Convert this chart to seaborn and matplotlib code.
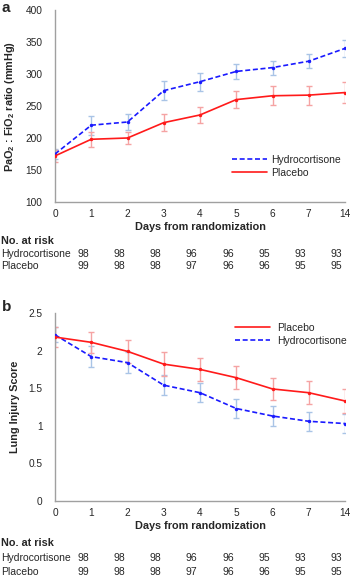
import numpy as np
import pandas as pd
import seaborn as sns
import matplotlib
matplotlib.use("Agg")
import matplotlib.pyplot as plt
from matplotlib.transforms import blended_transform_factory

# 데이터
days = ["0", "1", "2", "3", "4", "5", "6", "7", "14"]
pf_hydro = [175, 220, 225, 274, 288, 304, 310, 320, 340]
pf_hydro_err = [8, 15, 13, 15, 14, 12, 11, 11, 13]
pf_placebo = [172, 198, 200, 224, 236, 260, 266, 267, 271]
pf_placebo_err = [9, 12, 10, 13, 13, 13, 15, 15, 17]

lis_placebo = [2.18, 2.11, 1.99, 1.82, 1.75, 1.64, 1.49, 1.44, 1.33]
lis_placebo_err = [0.13, 0.14, 0.155, 0.16, 0.155, 0.15, 0.15, 0.155, 0.16]
lis_hydro = [2.21, 1.92, 1.84, 1.54, 1.44, 1.23, 1.13, 1.06, 1.03]
lis_hydro_err = [0.1, 0.135, 0.135, 0.135, 0.125, 0.13, 0.13, 0.125, 0.13]

risk_hydro = [98, 98, 98, 96, 96, 95, 93, 93]
risk_placebo = [99, 98, 98, 97, 96, 96, 95, 95]

sns.set_style("white")
plt.rcParams['font.family'] = ['Liberation Sans', 'DejaVu Sans']
plt.rcParams['mathtext.default'] = 'regular'

W, H = 358, 582
fig = plt.figure(figsize=(W / 100, H / 100), dpi=100)

def px_axes(left, top, right, bottom):
    return fig.add_axes([left / W, 1 - bottom / H, (right - left) / W, (bottom - top) / H])

HYD_C, HYD_E = "#1a1aff", "#a9c4e6"
PLA_C, PLA_E = "#ff1a1a", "#f5a3a3"
FS = 7.5   # 일반 글자 크기
x = np.arange(len(days))

def draw_panel(ax, hyd, hyd_err, pla, pla_err, order):
    ax.errorbar(x, hyd, yerr=hyd_err, fmt="none", ecolor=HYD_E, elinewidth=1, capsize=2.5, capthick=1, zorder=1)
    ax.errorbar(x, pla, yerr=pla_err, fmt="none", ecolor=PLA_E, elinewidth=1, capsize=2.5, capthick=1, zorder=1)
    df = pd.DataFrame({"x": np.concatenate([x, x]),
                       "y": np.concatenate([hyd, pla]),
                       "grp": ["Hydrocortisone"] * len(x) + ["Placebo"] * len(x)})
    sns.lineplot(data=df, x="x", y="y", hue="grp", style="grp",
                 palette={"Hydrocortisone": HYD_C, "Placebo": PLA_C},
                 dashes={"Hydrocortisone": (3, 1.6), "Placebo": ""},
                 markers={"Hydrocortisone": "o", "Placebo": "o"}, markersize=2.5,
                 markeredgewidth=0, lw=1.2, ax=ax, zorder=3)
    handles, labels = ax.get_legend_handles_labels()
    hl = dict(zip(labels, handles))
    for h in hl.values():
        h.set_marker("")
    ax.get_legend().remove()
    ax.set_xlim(0, 8)
    ax.set_xticks(x)
    ax.set_xticklabels(days)
    for s in ["top", "right"]:
        ax.spines[s].set_visible(False)
    for s in ["left", "bottom"]:
        ax.spines[s].set_color("#a0a0a0")
        ax.spines[s].set_linewidth(1.0)
    ax.tick_params(axis="y", direction="out", length=3, width=0.8, color="#a0a0a0", labelsize=7.3, pad=6)
    ax.tick_params(axis="x", direction="inout", length=4, width=0.8, color="#a0a0a0", labelsize=7.3, pad=3)
    ax.set_xlabel("Days from randomization", fontsize=7.8, fontweight="bold", labelpad=2)
    return [hl[k] for k in order]

def risk_table(ax, y_head, y_h, y_p):
    tr = blended_transform_factory(ax.transData, fig.transFigure)
    fig.text(1 / W, 1 - y_head / H, "No. at risk", fontsize=7.8, fontweight="bold", va="center")
    fig.text(1 / W, 1 - y_h / H, "Hydrocortisone", fontsize=FS, va="center")
    fig.text(1 / W, 1 - y_p / H, "Placebo", fontsize=FS, va="center")
    for i, (a, b) in enumerate(zip(risk_hydro, risk_placebo)):
        ax.text(i + 0.77, 1 - y_h / H, str(a), transform=tr, fontsize=FS, ha="center", va="center")
        ax.text(i + 0.77, 1 - y_p / H, str(b), transform=tr, fontsize=FS, ha="center", va="center")

# 패널 a
ax1 = px_axes(55, 10, 345, 202)
hs = draw_panel(ax1, pf_hydro, pf_hydro_err, pf_placebo, pf_placebo_err, ["Hydrocortisone", "Placebo"])
ax1.set_ylim(100, 400)
ax1.set_yticks(range(100, 401, 50))
ax1.set_ylabel(r"PaO$_2$ : FiO$_2$ ratio (mmHg)", fontsize=7.8, fontweight="bold", labelpad=6)
ax1.legend(hs, ["Hydrocortisone", "Placebo"], loc="upper left", bbox_to_anchor=(232 / W, 1 - 155 / H),
           bbox_transform=fig.transFigure, frameon=False, fontsize=FS, handlelength=3.4,
           handletextpad=0.4, labelspacing=0.25, borderpad=0, borderaxespad=0)
risk_table(ax1, 241, 254, 266)
fig.text(2 / W, 1 - 8 / H, "a", fontsize=11, fontweight="bold", va="center")

# 패널 b
ax2 = px_axes(55, 313, 345, 501)
hs = draw_panel(ax2, lis_hydro, lis_hydro_err, lis_placebo, lis_placebo_err, ["Placebo", "Hydrocortisone"])
ax2.set_ylim(0, 2.5)
ax2.set_yticks([0, 0.5, 1, 1.5, 2, 2.5])
ax2.set_yticklabels(["0", "0.5", "1", "1.5", "2", "2.5"])
ax2.set_ylabel("Lung Injury Score", fontsize=7.8, fontweight="bold", labelpad=6)
ax2.legend(hs, ["Placebo", "Hydrocortisone"], loc="upper left", bbox_to_anchor=(235 / W, 1 - 323 / H),
           bbox_transform=fig.transFigure, frameon=False, fontsize=FS, handlelength=3.4,
           handletextpad=0.6, labelspacing=0.25, borderpad=0, borderaxespad=0)
risk_table(ax2, 543, 558, 572)
fig.text(2 / W, 1 - 307 / H, "b", fontsize=11, fontweight="bold", va="center")

fig.savefig("out.png", dpi=100)
